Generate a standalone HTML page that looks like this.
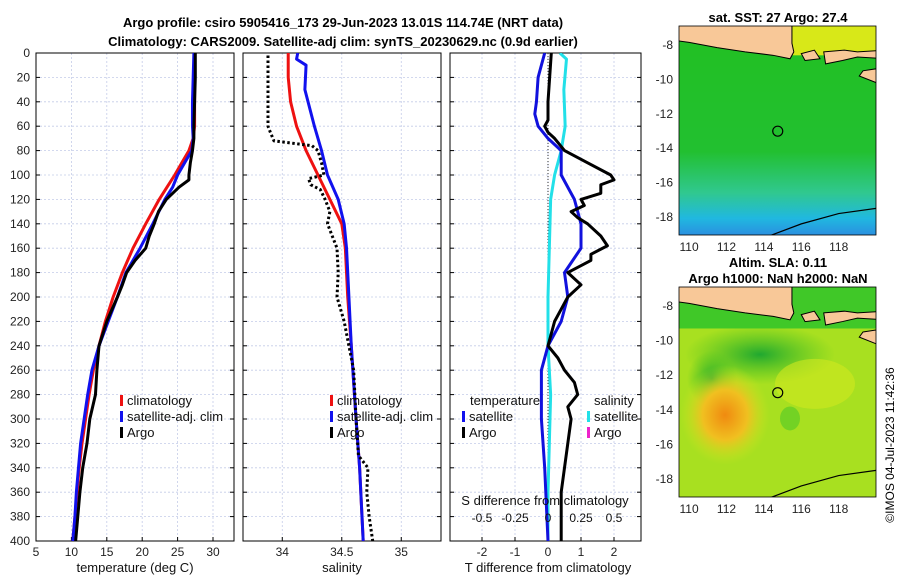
<!DOCTYPE html>
<html><head><meta charset="utf-8"><style>
body{margin:0;background:#fff;}
svg text{font-family:"Liberation Sans","DejaVu Sans",sans-serif;}
</style></head><body>
<svg id="fig" width="900" height="580" viewBox="0 0 900 580" xmlns="http://www.w3.org/2000/svg">
<defs>
<linearGradient id="sstg" x1="0" y1="0" x2="0" y2="1">
<stop offset="0" stop-color="#22c022"/><stop offset="0.6" stop-color="#22c030"/><stop offset="0.8" stop-color="#30c890"/><stop offset="0.92" stop-color="#20b8e0"/><stop offset="1" stop-color="#2a90e0"/></linearGradient>
<radialGradient id="warm" cx="0.5" cy="0.5" r="0.5"><stop offset="0" stop-color="#f08a10"/><stop offset="0.5" stop-color="#f0c020"/><stop offset="1" stop-color="#c8e820" stop-opacity="0"/></radialGradient>
<radialGradient id="cool" cx="0.5" cy="0.5" r="0.5"><stop offset="0" stop-color="#20a830"/><stop offset="1" stop-color="#40c020" stop-opacity="0"/></radialGradient>
<clipPath id="c1"><rect x="36" y="53" width="198" height="488"/></clipPath>
<clipPath id="c2"><rect x="243" y="53" width="198" height="488"/></clipPath>
<clipPath id="c3"><rect x="450" y="53" width="191" height="488"/></clipPath>
<clipPath id="m1"><rect x="679" y="26" width="197" height="209"/></clipPath>
<clipPath id="m2"><rect x="679" y="287" width="197" height="210"/></clipPath>
</defs>
<g id="root"></g>
<text x="343" y="27" text-anchor="middle" font-size="13" font-weight="bold">Argo profile: csiro 5905416_173 29-Jun-2023 13.01S 114.74E (NRT data)</text>
<text x="343" y="46" text-anchor="middle" font-size="13" font-weight="bold">Climatology: CARS2009. Satellite-adj clim: synTS_20230629.nc (0.9d earlier)</text>
<text x="778" y="22" text-anchor="middle" font-size="13" font-weight="bold">sat. SST: 27 Argo: 27.4</text>
<text x="778" y="267" text-anchor="middle" font-size="13" font-weight="bold">Altim. SLA: 0.11</text>
<text x="778" y="283" text-anchor="middle" font-size="13" font-weight="bold">Argo h1000: NaN h2000: NaN</text>
<text transform="translate(894,445) rotate(-90)" text-anchor="middle" font-size="12">©IMOS 04-Jul-2023 11:42:36</text>
</svg>
<script>
// ---- data ----
const depthTicks=[0,20,40,60,80,100,120,140,160,180,200,220,240,260,280,300,320,340,360,380,400];
const tempTicks=[5,10,15,20,25,30];
const salTicks=[34,34.5,35];
const salTickLabels=["34","34.5","35"];
const tdTicks=[-2,-1,0,1,2];
const sdTicks=[-0.5,-0.25,0,0.25,0.5];
const sdTickLabels=["-0.5","-0.25","0","0.25","0.5"];

const tClimDepth=[0,20,40,60,70,80,90,100,110,120,140,160,180,200,220,240,260,280,300,320,340,360,380,400];
const tClim=[27.4,27.4,27.4,27.4,27.2,26.6,25.6,24.6,23.5,22.4,20.5,18.7,17.2,15.9,14.8,13.9,13.1,12.5,12.0,11.5,11.1,10.8,10.5,10.2];
const tSatDepth=[0,20,40,60,70,80,90,100,110,120,140,160,180,200,220,240,260,280,300,320,340,360,380,400];
const tSat=[27.3,27.2,27.1,27.1,27.2,27.0,26.0,25.0,24.3,23.2,21.5,19.7,17.7,16.5,15.2,13.9,12.9,12.3,11.8,11.3,11.0,10.7,10.5,10.2];
const tArgoDepth=[0,20,40,60,70,80,90,100,104,110,120,130,140,150,160,170,180,190,200,220,240,260,280,300,320,340,360,380,400];
const tArgo=[27.5,27.5,27.4,27.3,27.3,27.1,26.8,26.6,26.6,25.2,23.4,22.3,21.7,21.0,20.5,19.0,17.8,17.2,16.5,15.0,13.9,13.6,13.4,12.6,12.2,11.6,11.2,10.9,10.6];

const sClimDepth=[0,20,40,60,80,100,120,140,160,200,240,300,340,400];
const sClim=[34.05,34.05,34.07,34.12,34.2,34.3,34.4,34.5,34.53,34.55,34.58,34.62,34.65,34.68];
const sSatDepth=[0,5,10,30,60,80,100,120,140,160,200,240,300,340,400];
const sSat=[34.13,34.12,34.2,34.19,34.27,34.33,34.38,34.47,34.52,34.54,34.56,34.58,34.62,34.65,34.68];
const sArgoDepth=[2,20,40,60,65,72,76,80,90,100,103,108,112,120,130,140,150,160,180,200,220,260,300,330,340,360,380,400];
const sArgo=[33.88,33.88,33.88,33.88,33.9,33.93,34.25,34.3,34.33,34.35,34.22,34.24,34.32,34.36,34.4,34.38,34.42,34.46,34.47,34.46,34.52,34.6,34.62,34.64,34.72,34.71,34.73,34.76];

const dTSatDepth=[0,20,40,50,60,70,80,100,120,140,160,180,200,220,240,260,280,300,340,400];
const dTSat=[-0.1,-0.3,-0.35,-0.4,-0.3,0.0,0.4,0.4,0.8,1.0,1.0,0.5,0.6,0.4,0.0,-0.2,-0.2,-0.2,-0.1,0.0];
const dTArgoDepth=[0,20,40,55,60,65,70,80,90,100,104,108,115,120,125,130,135,140,150,158,165,170,180,190,200,210,220,230,240,250,260,270,280,290,300,320,340,360,380,400];
const dTArgo=[0.1,0.05,0.0,0.0,-0.1,0.0,0.2,0.5,1.2,1.9,2.0,1.6,1.6,1.0,1.1,0.7,0.9,1.2,1.6,1.8,1.3,1.3,0.6,1.0,0.6,0.4,0.2,0.1,0.0,0.3,0.5,0.8,0.9,0.6,0.7,0.6,0.5,0.4,0.4,0.4];
const dSSatDepth=[0,5,30,60,80,100,120,160,200,240,280,320,360,400];
const dSSat=[0.09,0.14,0.12,0.13,0.1,0.05,0.02,0.01,0.0,0.0,0.02,0.01,0.0,0.0];

const lonTicks=[110,112,114,116,118];
const latTicks=[-8,-10,-12,-14,-16,-18];
const argoLon=[114.74];
const argoLat=[-13.01];

// ---- helpers ----
const NS="http://www.w3.org/2000/svg";
const root=document.getElementById('root');
function mk(tag,attrs,parent){const e=document.createElementNS(NS,tag);for(const k in attrs)e.setAttribute(k,attrs[k]);(parent||root).appendChild(e);return e;}
const Y0=53,Y1=541;
const yD=d=>Y0+(d/400)*(Y1-Y0);
const xT=v=>36+(v-5)*7.08;
const xS=v=>243+(v-33.67)*119;
const xTD=v=>548+v*33;
const xSD=v=>548+v*132;

function panel(x0,w,clip,xTicks,xf,xLabels,name){
  const g=mk('g',{});
  
  
  depthTicks.forEach(d=>{mk('line',{x1:x0,x2:x0+w,y1:yD(d),y2:yD(d),stroke:'#c4cce8','stroke-width':0.8,'stroke-dasharray':'2,2'},g);});
  xTicks.forEach(v=>{mk('line',{x1:xf(v),x2:xf(v),y1:Y0,y2:Y1,stroke:'#c4cce8','stroke-width':0.8,'stroke-dasharray':'2,2'},g);});
  mk('rect',{x:x0,y:Y0,width:w,height:Y1-Y0,fill:'none',stroke:'#000','stroke-width':1},g);
  depthTicks.forEach(d=>{mk('line',{x1:x0,x2:x0+4,y1:yD(d),y2:yD(d),stroke:'#000'},g);mk('line',{x1:x0+w-4,x2:x0+w,y1:yD(d),y2:yD(d),stroke:'#000'},g);});
  xTicks.forEach((v,i)=>{mk('line',{x1:xf(v),x2:xf(v),y1:Y1,y2:Y1-4,stroke:'#000'},g);
    if(xLabels){const t=mk('text',{x:xf(v),y:Y1+15,'text-anchor':'middle','font-size':12,fill:'#222'},g);t.textContent=xLabels[i];
    
    }});
  return g;
}
function line(xs,ds,xf,color,clip,name,dash){
  const p=mk('polyline',{points:xs.map((v,i)=>xf(v)+','+yD(ds[i])).join(' '),fill:'none',stroke:color,'stroke-width':3,'clip-path':'url(#'+clip+')','stroke-linejoin':'round'});
  if(dash)p.setAttribute('stroke-dasharray',dash);
  
  
}
function txt(x,y,s,name,opts){const t=mk('text',Object.assign({x:x,y:y,'font-size':13,fill:'#111'},opts||{}));t.textContent=s;
  
  return t;}
function legItem(x,y,color,label,name){
  const g=mk('g',{});
  
  
  mk('rect',{x:x,y:y-10,width:3,height:11,fill:color},g);
  const t=mk('text',{x:x+7,y:y,'font-size':13,fill:'#111'},g);t.textContent=label;
}

// panel 1
panel(36,198,'c1',tempTicks,xT,tempTicks.map(String),'temperature-panel');
depthTicks.forEach(d=>{txt(30,yD(d)+4,String(d),'y-tick-label',{'text-anchor':'end','font-size':12,fill:'#222'});});
line(tClim,tClimDepth,xT,'#ee1111','c1','temp-climatology-line');
line(tSat,tSatDepth,xT,'#1111ee','c1','temp-satellite-line');
line(tArgo,tArgoDepth,xT,'#000','c1','temp-argo-line');
txt(135,572,'temperature (deg C)','x-axis-title-temperature',{'text-anchor':'middle'});
legItem(120,405,'#ee1111','climatology','legend-climatology');
legItem(120,421,'#1111ee','satellite-adj. clim','legend-satellite-adj');
legItem(120,437,'#000','Argo','legend-argo');

// panel 2
panel(243,198,'c2',salTicks,xS,salTickLabels,'salinity-panel');
line(sClim,sClimDepth,xS,'#ee1111','c2','sal-climatology-line');
line(sSat,sSatDepth,xS,'#1111ee','c2','sal-satellite-line');
line(sArgo,sArgoDepth,xS,'#000','c2','sal-argo-line','2.5,2.5');
txt(342,572,'salinity','x-axis-title-salinity',{'text-anchor':'middle'});
legItem(330,405,'#ee1111','climatology','legend-climatology-2');
legItem(330,421,'#1111ee','satellite-adj. clim','legend-satellite-adj-2');
legItem(330,437,'#000','Argo','legend-argo-2');

// panel 3
panel(450,191,'c3',tdTicks,xTD,tdTicks.map(String),'difference-panel');
mk('line',{x1:548,x2:548,y1:Y0,y2:Y1,stroke:'#333','stroke-width':1,'stroke-dasharray':'1,2'});
line(dSSat,dSSatDepth,xSD,'#22e0e8','c3','sal-diff-satellite-line');
line(dTSat,dTSatDepth,xTD,'#1111dd','c3','temp-diff-satellite-line');
line(dTArgo,dTArgoDepth,xTD,'#000','c3','temp-diff-argo-line');
sdTicks.forEach((v,i)=>{txt(xSD(v),522,sdTickLabels[i],'s-diff-tick-label',{'text-anchor':'middle','font-size':12});});
txt(545,505,'S difference from climatology','s-diff-axis-title',{'text-anchor':'middle'});
txt(548,572,'T difference from climatology','t-diff-axis-title',{'text-anchor':'middle'});
txt(470,405,'temperature','legend-title-temperature');
legItem(462,421,'#1111ee','satellite','legend-t-satellite');
legItem(462,437,'#000','Argo','legend-t-argo');
txt(594,405,'salinity','legend-title-salinity');
legItem(587,421,'#22e0e8','satellite','legend-s-satellite');
legItem(587,437,'#ee22cc','Argo','legend-s-argo');

// maps
const lonX=v=>679+(v-109.46)*18.7;
function mapPanel(y0,y1,ly,clip,name,kind){
  const g=mk('g',{});
  
  
  const cg=mk('g',{'clip-path':'url(#'+clip+')'},g);
  if(kind==='sst'){
    mk('rect',{x:679,y:y0,width:197,height:y1-y0,fill:'url(#sstg)'},cg);
    mk('rect',{x:lonX(115.3),y:y0,width:120,height:ly(-8.6)-y0,fill:'#d8e818'},cg);
  }else{
    mk('rect',{x:679,y:y0,width:197,height:y1-y0,fill:'#a8e020'},cg);
    mk('ellipse',{cx:760,cy:ly(-10.8),rx:75,ry:30,fill:'url(#cool)'},cg);
    mk('ellipse',{cx:712,cy:ly(-12.2),rx:25,ry:28,fill:'url(#cool)'},cg);
    mk('ellipse',{cx:725,cy:ly(-14.3),rx:45,ry:50,fill:'url(#warm)'},cg);
    mk('ellipse',{cx:815,cy:ly(-12.5),rx:40,ry:25,fill:'#d0e820',opacity:0.6},cg);
    mk('ellipse',{cx:790,cy:ly(-14.5),rx:10,ry:12,fill:'#50c828',opacity:0.6},cg);
    mk('rect',{x:679,y:y0,width:197,height:ly(-9.3)-y0,fill:'#40c828'},cg);
  }
  // land
  const land=[[109,-6.5],[115.5,-6.5],[115.5,-7.9],[115.6,-8.4],[115.4,-8.8],[114.5,-8.6],[113,-8.4],[111.5,-8.15],[110,-7.85],[109,-7.7]];
  mk('polygon',{points:land.map(p=>lonX(p[0])+','+ly(p[1])).join(' '),fill:'#f8c898',stroke:'#000','stroke-width':1},cg);
  const isl1=[[116,-8.5],[116.7,-8.3],[117,-8.8],[116.2,-8.9]];
  const isl2=[[117.2,-8.4],[118.3,-8.3],[119,-8.4],[120.5,-8.3],[120.5,-8.8],[119,-8.7],[118.2,-8.9],[117.3,-9.1]];
  [isl1,isl2].forEach(isl=>mk('polygon',{points:isl.map(p=>lonX(p[0])+','+ly(p[1])).join(' '),fill:'#f8c898',stroke:'#000','stroke-width':1},cg));
  mk('polygon',{points:[[120.5,-9.3],[119.3,-9.5],[119.1,-9.8],[120.5,-10.4]].map(p=>lonX(p[0])+','+ly(p[1])).join(' '),fill:'#f8c898',stroke:'#000','stroke-width':1},cg);
  mk('polyline',{points:[[113.8,-19.3],[116,-18.4],[118,-17.8],[120,-17.5]].map(p=>lonX(p[0])+','+ly(p[1])).join(' '),fill:'none',stroke:'#000','stroke-width':1.2},cg);
  argoLon.forEach((lo,i)=>{const c=mk('circle',{cx:lonX(lo),cy:ly(argoLat[i]),r:5,fill:'none',stroke:'#000','stroke-width':1.2},g);
    
    });
  mk('rect',{x:679,y:y0,width:197,height:y1-y0,fill:'none',stroke:'#000','stroke-width':0.8},g);
  lonTicks.forEach(v=>{const t=mk('text',{x:lonX(v),y:y1+16,'text-anchor':'middle','font-size':12,fill:'#222'},g);t.textContent=String(v);
    
    });
  latTicks.forEach(v=>{const t=mk('text',{x:673,y:ly(v)+4,'text-anchor':'end','font-size':12,fill:'#222'},g);t.textContent=String(v);
    
    });
}
mapPanel(26,235,v=>45+(-8-v)*17.2,'m1','sst-map','sst');
mapPanel(287,497,v=>306+(-8-v)*17.3,'m2','sla-map','sla');
</script>
</body></html>
